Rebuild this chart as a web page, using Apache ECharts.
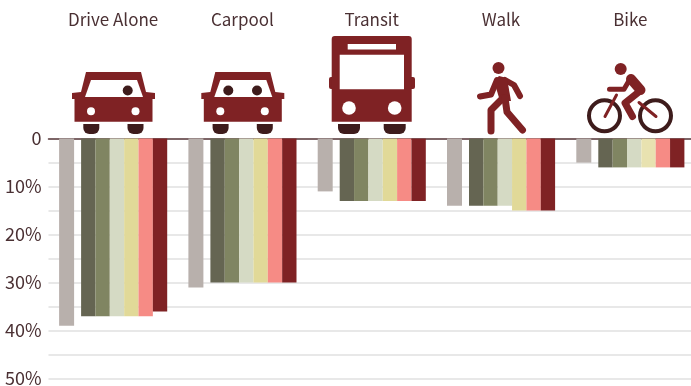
<!DOCTYPE html>
<html><head><meta charset="utf-8">
<style>html,body{margin:0;padding:0;background:#fff}#c{width:691px;height:386px}</style>
<script src="https://cdn.jsdelivr.net/npm/echarts@6/dist/echarts.min.js"></script>
</head><body><div id="c"></div>
<script>
const categories = ['Drive Alone','Carpool','Transit','Walk','Bike'];
const yTicks = [0,10,20,30,40,50];
const seriesA = [39,31,11,14,5];
const seriesB = [37,30,13,14,6];
const seriesC = [37,30,13,14,6];
const seriesD = [37,30,13,14,6];
const seriesE = [37,30,13,15,6];
const seriesF = [37,30,13,15,6];
const seriesG = [36,30,13,15,6];
const colorsBars = ['#b8b0ac','#656552','#808562','#d5dac4','#e1d998','#f68b85','#7f2224'];
const bikeYellow = '#e8e2b0';

const RED='#7f2224', DARK='#3e1c1c', INK='#4a3033', FONT='"Noto Sans CJK SC","Noto Sans",sans-serif';
const mk=(name,data,i,w)=>({name,type:'bar',data,barWidth:w||14.35,barGap:0,
  itemStyle:{color:colorsBars[i]},emphasis:{disabled:true},silent:true});
const poly=(pts,fill)=>({type:'polygon',shape:{points:pts},style:{fill}});
const circ=(cx,cy,r,fill)=>({type:'circle',shape:{cx,cy,r},style:{fill}});
const rect=(x,y,w,h,fill,r)=>({type:'rect',shape:{x,y,width:w,height:h,r:r||0},style:{fill}});
const line=(pts,w,col)=>({type:'polyline',shape:{points:pts},style:{stroke:col||RED,lineWidth:w,fill:null,lineCap:'round',lineJoin:'round'}});
const wheel=(x,w)=>rect(x,124,w,10,DARK,[0,0,6,6]);

function car(dx,eyes){
  const p=(a)=>a.map(q=>[q[0]+dx,q[1]]);
  return [
    poly(p([[86,72],[141,72],[146,92],[155,93],[155,99],[152.5,99],[152.5,121.7],[74.5,121.7],[74.5,99],[72,99],[72,93],[81,92]]),RED),
    poly(p([[91,80],[137,80],[143,97],[85,97]]),'#fff'),
    circ(91+dx,111.3,4,'#fff'),circ(135.5+dx,111.3,4,'#fff'),
    wheel(83.3+dx,16),wheel(127.5+dx,16)
  ].concat(eyes.map(e=>circ(e+dx,90.5,5,DARK)));
}
const icons=[].concat(
  car(0,[127.7]),
  car(129.3,[99,127.7]),
  [
    rect(329,77,86,12,RED,2),
    rect(331.7,36,80,85.7,RED,[3,3,0,0]),
    rect(347.7,44,48.3,5.5,'#fff'),
    rect(339.7,54.7,64.3,34.6,'#fff'),
    circ(349,108,6.8,'#fff'),circ(394.7,108,6.8,'#fff'),
    wheel(338,22),wheel(383.7,22)
  ],
  [
    circ(498.5,68,6,RED),
    line([[480,96.5],[491,94.5],[497,80]],6),
    line([[505,80],[514,85],[520,96]],6),
    poly([[494,81],[499,76],[507,78],[511,101],[500,101]],RED),
    line([[503,98],[491,110],[491,131]],7),
    line([[505,98],[507,112],[522.5,130]],7)
  ],
  [
    {type:'circle',shape:{cx:604.5,cy:115.8,r:15.5},style:{fill:null,stroke:DARK,lineWidth:4}},
    {type:'circle',shape:{cx:655.5,cy:115.8,r:15.5},style:{fill:null,stroke:DARK,lineWidth:4}},
    circ(620.7,69,6,RED),
    line([[616.5,95],[605,116.5]],3),
    line([[639,102.5],[656,116.5]],3),
    line([[609.5,89.3],[624,89.3],[630,79]],5),
    line([[631,79],[640.5,90]],10),
    line([[640,91],[625,103],[632.5,116.5]],7)
  ]
);

const chart=echarts.init(document.getElementById('c'),null,{renderer:'canvas'});
chart.setOption({
  animation:false,
  textStyle:{fontFamily:FONT},
  grid:{left:48.5,top:138.6,right:-4,height:240,containLabel:false,outerBoundsMode:'none'},
  xAxis:{type:'category',position:'top',data:categories,
    axisTick:{show:false},
    axisLine:{show:true,onZero:false,lineStyle:{color:'#5a3a3c',width:1.5}},
    axisLabel:{interval:0,margin:110.5,fontSize:17,color:INK,fontFamily:FONT}},
  yAxis:{type:'value',inverse:true,min:0,max:50,interval:5,
    axisLine:{show:false},axisTick:{show:false},
    splitLine:{show:true,lineStyle:{color:'#e0e0e0',width:1.5}},
    axisLabel:{fontSize:18,color:INK,margin:7,fontFamily:FONT,padding:[0,0,1,0],
      formatter:v=>yTicks.includes(v)?(v===0?'0':v+'%'):''}},
  series:[
    mk('A',seriesA,0,15),
    {name:'gap',type:'bar',data:categories.map(()=>'-'),barWidth:7,barGap:0,silent:true},
    mk('B',seriesB,1),mk('C',seriesC,2),mk('D',seriesD,3),
    mk('E',seriesE.map((v,i)=>i===4?{value:v,itemStyle:{color:bikeYellow}}:v),4),
    mk('F',seriesF,5),mk('G',seriesG,6)
  ],
  graphic:{elements:icons.map(e=>Object.assign(e,{silent:true}))}
});
</script></body></html>
